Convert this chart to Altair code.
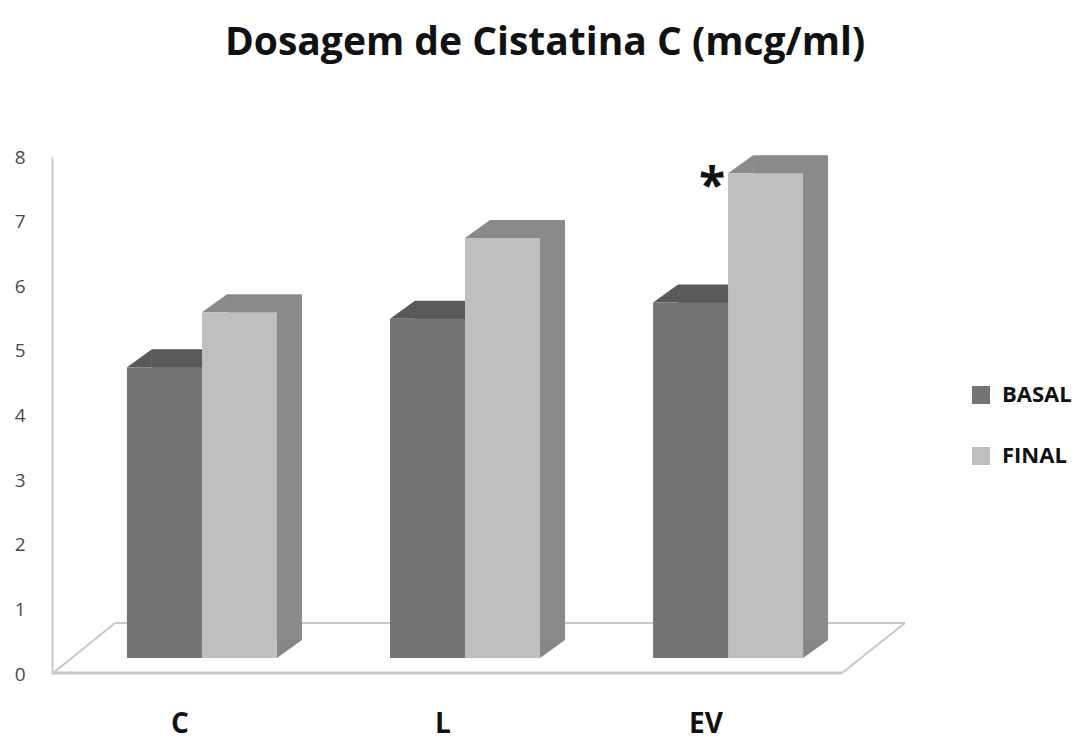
import altair as alt
import pandas as pd

# ---- data ----
groups = ["C", "L", "EV"]
series_names = ["BASAL", "FINAL"]
basal = [4.5, 5.25, 5.5]
final = [5.35, 6.5, 7.5]
final_notes = ["", "", "*"]
y_ticks = [0, 1, 2, 3, 4, 5, 6, 7, 8]
title_text = "Dosagem de Cistatina C (mcg/ml)"

rows = []
for g, b, f, n in zip(groups, basal, final, final_notes):
    rows.append({"group": g, "series": "BASAL", "value": b, "note": ""})
    rows.append({"group": g, "series": "FINAL", "value": f, "note": n})
df = pd.DataFrame(rows)

# ---- styling ----
FONT = "Open Sans"
W, DX, DY, LIFT = 75, 25, 18, 16      # bar width, 3D depth (x, y), lift of front face
PW, PH = 826, 517
LEFT, TOP = 52, 157
front_colors = ["#747474", "#bfbfbf"]
top_colors = {"BASAL": "#595959", "FINAL": "#8a8a8a"}
side_colors = {"BASAL": "#6a6a6a", "FINAL": "#868686"}
floor_color = "#c8c8c8"

xscale = alt.Scale(domain=groups, paddingInner=0, paddingOuter=0.07)
yscale = alt.Scale(domain=[0, 8], nice=False, zero=True)

x_axis = alt.Axis(labelFont=FONT, labelFontSize=28, labelFontWeight="bold",
                  labelColor="#111111", labelOffset=-22, labelPadding=36,
                  domain=False, ticks=False, grid=False, labelAngle=0)
y_axis = alt.Axis(values=y_ticks, labelFont=FONT, labelFontSize=19,
                  labelColor="#4a4a4a", labelPadding=27, domainColor=floor_color,
                  domainWidth=2, ticks=False, grid=False, format="d")


def X():
    return alt.X("group:N", scale=xscale, sort=groups, axis=x_axis, title=None)


def Y(field="value:Q"):
    return alt.Y(field, scale=yscale, axis=y_axis, title=None)


base = alt.Chart(df).transform_calculate(zero="0")


def sel(s):
    return base.transform_filter(alt.datum.series == s)


TL_PATH = "M -1 0.72 L 1 -0.72 L 1 0.72 Z"
BR_PATH = "M -1 -0.72 L 1 -0.72 L -1 0.72 Z"


def bar3d(s, xo):
    back = sel(s).mark_bar(
        width=W, xOffset=xo + DX, yOffset=-LIFT - DY, y2Offset=-LIFT - DY,
        color=top_colors[s]
    ).encode(x=X(), y=Y(), y2="zero:Q")
    tri_top = sel(s).mark_point(
        shape=TL_PATH, size=DX ** 2, filled=True, opacity=1, strokeWidth=0,
        color=top_colors[s], xOffset=xo - W / 2 + DX / 2, yOffset=-LIFT - DY / 2
    ).encode(x=X(), y=Y())
    tri_bot = sel(s).mark_point(
        shape=BR_PATH, size=DX ** 2, filled=True, opacity=1, strokeWidth=0,
        color=side_colors[s], xOffset=xo + W / 2 + DX / 2, yOffset=-LIFT - DY / 2
    ).encode(x=X(), y=Y("zero:Q"))
    front = sel(s).mark_bar(
        width=W, xOffset=xo, yOffset=-LIFT, y2Offset=-LIFT
    ).encode(
        x=X(),
        y=Y(),
        y2="zero:Q",
        color=alt.Color(
            "series:N",
            scale=alt.Scale(domain=series_names, range=front_colors),
            legend=alt.Legend(
                title=None, orient="none", legendX=918, legendY=227,
                symbolType="square", symbolSize=324, symbolStrokeWidth=0,
                labelFont=FONT, labelFontSize=22, labelFontWeight="bold",
                labelColor="#111111", rowPadding=39, labelOffset=10,
            ),
        ),
    )
    return [back, tri_top, tri_bot, front]


one = alt.Chart(pd.DataFrame({"k": [0]}))
floor = [
    one.mark_rule(color=floor_color, strokeWidth=3).encode(
        x=alt.value(0), x2=alt.value(790), y=alt.value(PH - 1), y2=alt.value(PH - 1)),
    one.mark_rule(color=floor_color, strokeWidth=2).encode(
        x=alt.value(63), x2=alt.value(853), y=alt.value(PH - 51), y2=alt.value(PH - 51)),
    one.mark_rule(color=floor_color, strokeWidth=2).encode(
        x=alt.value(0), x2=alt.value(63), y=alt.value(PH), y2=alt.value(PH - 51)),
    one.mark_rule(color=floor_color, strokeWidth=2).encode(
        x=alt.value(790), x2=alt.value(853), y=alt.value(PH - 1), y2=alt.value(PH - 51)),
]

star = base.transform_filter(alt.datum.note != "").mark_text(
    font=FONT, fontSize=48, fontWeight="bold", color="#111111",
    align="center", baseline="alphabetic", xOffset=-16, yOffset=13
).encode(x=X(), y=Y(), text="note:N")

layers = floor + bar3d("BASAL", -W / 2) + bar3d("FINAL", W / 2) + [star]

chart = alt.layer(*layers).properties(
    width=PW, height=PH,
    title=alt.TitleParams(title_text, font=FONT, fontSize=39, fontWeight="bold",
                          color="#111111", anchor="middle", dx=80, offset=46,
                          baseline="bottom"),
    autosize=alt.AutoSizeParams(type="none"),
    padding={"left": LEFT, "top": TOP, "right": 1082 - LEFT - PW, "bottom": 749 - TOP - PH},
).configure_view(strokeWidth=0)

chart.save("out.html", embed_options={"renderer": "svg", "actions": False})
